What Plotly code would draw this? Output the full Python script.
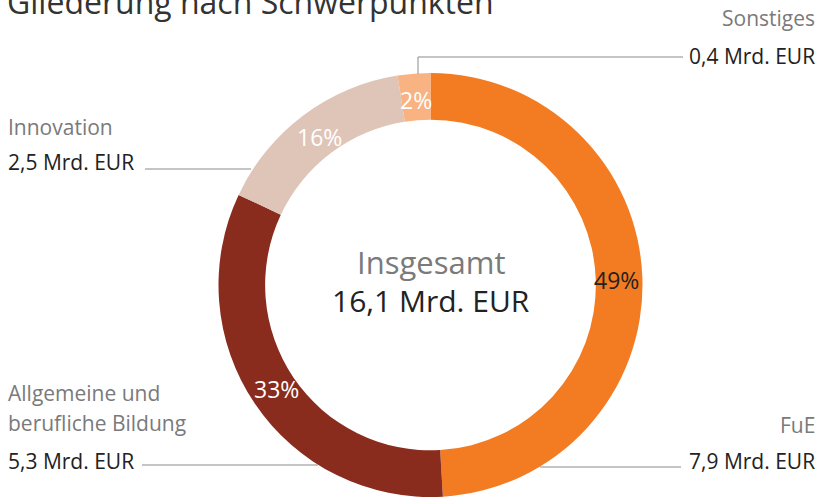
import math
import plotly.graph_objects as go

categories = ["FuE", "Allgemeine und<br>berufliche Bildung", "Innovation", "Sonstiges"]
values = [7.9, 5.3, 2.5, 0.4]
value_labels = ["7,9 Mrd. EUR", "5,3 Mrd. EUR", "2,5 Mrd. EUR", "0,4 Mrd. EUR"]
colors = ["#F37B21", "#8A2C1D", "#DFC5B8", "#F9B282"]
text_colors = ["#222222", "#FFFFFF", "#FFFFFF", "#FFFFFF"]
total_label = "16,1 Mrd. EUR"
title = "Gliederung nach Schwerpunkten"

W, H = 820, 497
FONT = "Open Sans"
CX, CY, R_OUT = 430.5, 285, 212
HOLE = 0.78

fig = go.Figure(go.Pie(
    labels=categories,
    values=values,
    hole=HOLE,
    sort=False,
    direction="clockwise",
    rotation=0,
    marker=dict(colors=colors, line=dict(width=0)),
    textinfo="none",
    domain=dict(x=[(CX - R_OUT) / W, (CX + R_OUT) / W], y=[0, (H - (CY - R_OUT)) / H]),
    showlegend=False,
    hoverinfo="label+value+percent",
))

def px(x):
    return x / W

def py(y):
    return 1 - y / H

ann = []
def add(text, x, y, color, size, xanchor="left", yanchor="middle"):
    ann.append(dict(text=text, x=px(x), y=py(y), xref="paper", yref="paper",
                    showarrow=False, xanchor=xanchor, yanchor=yanchor,
                    font=dict(family=FONT, size=size, color=color)))

# percentage labels placed at the middle angle of each ring segment
total = sum(values)
r_mid = R_OUT * (1 + HOLE) / 2 - 3
cum = 0.0
for v, tc in zip(values, text_colors):
    mid = (cum + v / 2) / total * 2 * math.pi
    cum += v
    x = CX + r_mid * math.sin(mid)
    y = CY - r_mid * math.cos(mid)
    add(f"{round(v / total * 100)}%", x, y, tc, 23, "center")

GRAY = "#7A7A7A"
DARK = "#222222"
LS = 21
add(title, 5, 1, "#333333", 32, "left", "middle")
add("Insgesamt", 431, 262, GRAY, 31, "center")
add(total_label, 431, 300, DARK, 30, "center")

add("Sonstiges", 817, 18, GRAY, LS, "right")
add(value_labels[3], 817, 56, DARK, LS, "right")
add("Innovation", 6, 127, GRAY, LS, "left")
add(value_labels[2], 6, 162, DARK, LS, "left")
add("Allgemeine und", 6, 393, GRAY, LS, "left")
add("berufliche Bildung", 6, 423, GRAY, LS, "left")
add(value_labels[1], 6, 461, DARK, LS, "left")
add("FuE", 817, 425, GRAY, LS, "right")
add(value_labels[0], 817, 461, DARK, LS, "right")

LINE = dict(color="#8A8A8A", width=1)
shapes = []
def seg(x0, y0, x1, y1):
    shapes.append(dict(type="line", xref="paper", yref="paper",
                       x0=px(x0), y0=py(y0), x1=px(x1), y1=py(y1), line=LINE))

seg(418, 57, 418, 74)
seg(418, 57, 683, 57)
seg(145, 169, 251, 169)
seg(142, 465, 318, 465)
seg(540, 467, 681, 467)

fig.update_layout(
    width=W, height=H,
    margin=dict(l=0, r=0, t=0, b=0),
    paper_bgcolor="white",
    plot_bgcolor="white",
    annotations=ann,
    shapes=shapes,
)

fig.write_html("out.html", config={"displayModeBar": False},
               post_script="document.body.style.margin='0';")
